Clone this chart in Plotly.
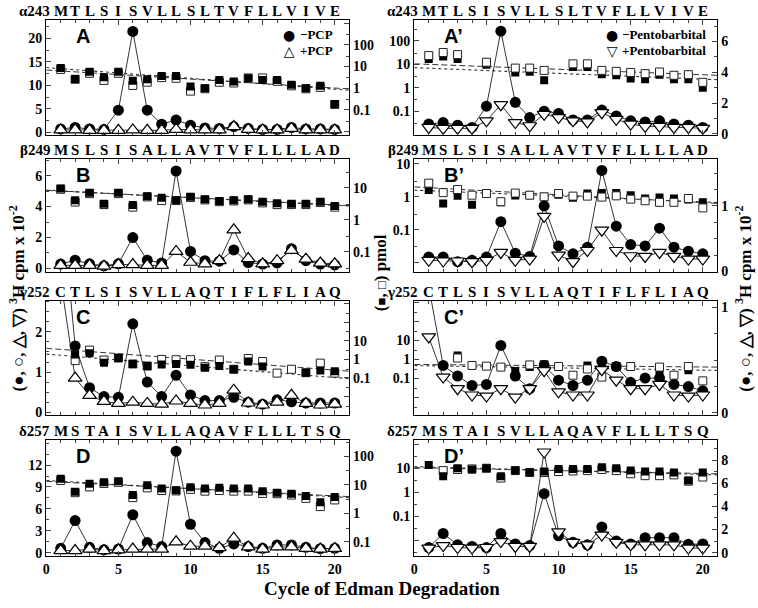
import math
import plotly.graph_objects as go

W, H = 758, 608

# ---------------- data ----------------
cycles = [1, 2, 3, 4, 5, 6, 7, 8, 9, 10, 11, 12, 13, 14, 15, 16, 17, 18, 19, 20]
fit_x = [0, 21]

seq_alpha = ["M", "T", "L", "S", "I", "S", "V", "L", "L", "S", "L", "T", "V", "F", "L", "L", "V", "I", "V", "E"]
seq_beta = ["M", "S", "L", "S", "I", "S", "A", "L", "L", "A", "V", "T", "V", "F", "L", "L", "L", "L", "A", "D"]
seq_gamma = ["C", "T", "L", "S", "I", "S", "V", "L", "L", "A", "Q", "T", "I", "F", "L", "F", "L", "I", "A", "Q"]
seq_delta = ["M", "S", "T", "A", "I", "S", "V", "L", "L", "A", "Q", "A", "V", "F", "L", "L", "L", "T", "S", "Q"]

# Panel A (-PCP circles / +PCP triangles, cpm x 10^-2; squares pmol)
A_circle = [0.7, 1.0, 0.7, 0.6, 4.7, 21.5, 4.7, 1.7, 2.6, 1.5, 0.9, 0.8, 1.2, 0.8, 0.6, 0.6, 1.0, 0.7, 0.7, 0.6]
A_triangle = [0.5, 0.5, 0.4, 0.4, 0.4, 0.5, 0.4, 0.4, 0.6, 0.5, 0.5, 0.5, 1.2, 0.6, 0.5, 0.5, 0.8, 0.5, 0.5, 0.5]
A_sq_filled = [8.7, 2.7, 5.8, 3.2, 5.8, 2.2, 2.6, 3.7, 3.7, 1.2, 1.0, 2.4, 2.05, 2.9, 2.4, 2.4, 1.45, 1.0, 1.3, 0.19]
A_sq_open = [7.4, 2.6, 4.9, 2.3, 4.9, 1.35, 1.9, 3.1, 2.9, 0.74, 0.95, 1.9, 1.75, 3.0, 3.0, 2.1, 1.3, 0.95, 1.1, 0.18]
A_fit_dotted = [9.0, 0.81]
A_fit_dashed = [6.9, 0.93]

B_circle = [0.28, 0.53, 0.3, 0.17, 0.3, 2.0, 0.53, 0.36, 6.3, 1.1, 0.5, 0.47, 1.2, 0.38, 0.28, 0.36, 1.28, 0.5, 0.28, 0.23]
B_triangle = [0.2, 0.2, 0.2, 0.15, 0.25, 0.25, 0.2, 0.2, 1.1, 0.4, 0.3, 0.5, 2.5, 0.64, 0.3, 0.5, 1.17, 0.6, 0.35, 0.3]
B_sq_filled = [9.5, 4.1, 7.0, 3.2, 7.0, 2.9, 5.5, 4.9, 4.1, 5.3, 4.4, 3.9, 4.1, 4.4, 3.7, 3.3, 3.2, 3.2, 3.7, 2.7]
B_sq_open = [9.0, 3.6, 6.6, 3.0, 6.6, 2.5, 5.2, 4.0, 4.0, 5.0, 4.2, 3.7, 3.9, 4.2, 3.4, 3.0, 3.0, 3.0, 3.5, 2.5]
B_fit_dotted = [8.5, 2.7]
B_fit_dashed = [8.3, 2.8]

C_circle = [5.5, 1.65, 0.61, 0.39, 0.37, 2.2, 0.75, 0.39, 0.92, 0.43, 0.29, 0.29, 0.37, 0.25, 0.2, 0.31, 0.26, 0.23, 0.23, 0.23]
C_triangle = [3.3, 0.85, 0.42, 0.27, 0.22, 0.25, 0.22, 0.2, 0.28, 0.22, 0.18, 0.22, 0.55, 0.23, 0.18, 0.25, 0.42, 0.22, 0.18, 0.2]
C_sq_filled = [None, 1.8, 2.1, 0.65, 1.17, 0.56, 0.43, 0.53, 0.56, 0.5, 0.35, 0.43, 0.29, 0.76, 0.41, None, None, 0.19, 0.25, 0.23]
C_sq_open = [None, 0.85, 3.1, 0.91, 1.17, 0.56, 0.43, 0.98, 0.95, 0.95, 0.4, 0.91, 0.29, 1.1, 0.76, 0.18, 0.29, 0.19, 0.62, 0.18]
C_fit_dotted = [1.9, 0.09]
C_fit_dashed = [3.9, 0.23]

D_circle = [0.6, 4.4, 0.75, 0.4, 0.5, 5.2, 1.4, 0.85, 13.9, 3.9, 1.4, 0.6, 1.2, 0.85, 0.6, 1.07, 1.07, 0.75, 0.55, 0.6]
D_triangle = [0.3, 0.3, 0.5, 0.3, 0.4, 0.5, 0.5, 0.5, 1.5, 0.9, 0.9, 0.7, 2.0, 0.8, 0.5, 0.8, 0.8, 0.6, 0.5, 0.6]
D_sq_filled = [16, 5.6, 10.8, 12, 13, 4.3, 9.5, 7.3, 6.4, 8.1, 7.3, 7.7, 7.3, 7.3, 5.9, 5.2, 4.8, 4.0, 2.4, 3.7]
D_sq_open = [14, 5.2, 8.3, 11, 12, 3.5, 7.7, 6.2, 6.0, 6.8, 5.9, 6.2, 5.9, 5.9, 4.9, 4.8, 4.3, 3.3, 1.7, 2.9]
D_fit_dotted = [14, 3.5]
D_fit_dashed = [13, 3.8]

# Pentobarbital panels (circles -Pentobarbital, inverted triangles +Pentobarbital)
Ap_circle = [0.64, 0.74, 0.57, 0.42, 1.8, 6.67, 2.05, 1.06, 1.48, 1.33, 0.91, 0.91, 1.55, 1.17, 0.85, 0.78, 0.85, 0.64, 0.57, 0.42]
Ap_triangle = [0.42, 0.36, 0.36, 0.36, 0.85, 1.9, 0.74, 0.53, 1.27, 1.06, 0.85, 0.78, 1.38, 0.95, 0.64, 0.49, 0.49, 0.42, 0.42, 0.36]
Ap_sq_filled = [17, 21.4, 17, None, 9.6, None, 4.5, 4.8, 2.1, None, 7.6, 7.6, 3.8, 3.4, 2.5, 2.3, 3.6, 2.3, 2.3, 1.0]
Ap_sq_open = [23.6, 32, 26, None, 12.3, None, 6.9, 6.9, 5.5, None, 10.5, 10.5, 5.5, 5.0, 4.5, 4.0, 4.7, 3.4, 3.6, 1.7]
Ap_fit_dotted = [7.2, 2.2]
Ap_fit_dashed = [10.5, 3.4]

Bp_circle = [0.22, 0.22, 0.15, 0.17, 0.22, 0.76, 0.28, 0.23, 1.0, 0.39, 0.27, 0.37, 1.54, 0.69, 0.41, 0.39, 0.66, 0.37, 0.31, 0.27]
Bp_triangle = [0.17, 0.16, 0.16, 0.15, 0.17, 0.29, 0.17, 0.19, 0.84, 0.25, 0.15, 0.32, 0.63, 0.32, 0.24, 0.23, 0.29, 0.23, 0.19, 0.19]
Bp_sq_filled = [1.6, 0.63, 1.07, 0.57, 1.26, 0.68, 1.1, 1.12, 1.0, 1.15, 0.93, 1.26, 1.3, 1.3, 1.12, 0.89, 0.95, 0.89, 0.83, 0.68]
Bp_sq_open = [2.6, 1.34, 1.66, 1.12, 1.26, 0.71, 1.3, 1.12, 1.0, 1.26, 1.05, 1.05, 0.98, 1.07, 0.85, 0.76, 0.68, 0.68, 0.89, 0.46]
Bp_fit_dotted = [1.6, 0.67]
Bp_fit_dashed = [2.0, 0.63]

Cp_circle = [1.2, 0.45, 0.35, 0.26, 0.27, 0.64, 0.35, 0.23, 0.45, 0.31, 0.26, 0.31, 0.49, 0.44, 0.29, 0.33, 0.33, 0.27, 0.25, 0.21]
Cp_triangle = [0.72, 0.34, 0.23, 0.17, 0.16, 0.23, 0.15, 0.23, 0.40, 0.2, 0.17, 0.17, 0.41, 0.31, 0.23, 0.23, 0.27, 0.17, 0.16, 0.17]
Cp_sq_filled = [None, None, 1.6, 0.49, 0.45, 0.4, 0.25, 0.4, 0.4, None, None, 0.49, 0.56, 0.43, None, None, 0.27, None, 0.27, None]
Cp_sq_open = [None, None, 1.2, 0.49, 0.45, 0.4, None, 0.52, 0.54, 0.43, 0.15, 0.32, 0.12, 0.43, 0.43, None, 0.4, 0.15, 0.43, 0.076]
Cp_fit_dotted = [0.48, 0.27]
Cp_fit_dashed = [0.55, 0.40]

Dp_circle = [0.45, 1.66, 0.68, 0.54, 0.45, 1.66, 0.76, 0.62, 5.1, 1.46, 0.9, 0.68, 2.23, 1.01, 0.76, 1.3, 1.3, 1.3, 0.73, 0.76]
Dp_triangle = [0.4, 0.62, 0.45, 0.4, 0.45, 0.96, 0.54, 0.54, 8.7, 1.8, 0.9, 0.68, 1.52, 0.9, 0.68, 0.68, 0.68, 0.68, 0.4, 0.4]
Dp_sq_filled = [13.7, 4.6, 10, 8.9, 10, 4.6, 8.0, 6.7, 7.3, 9.4, 9.4, 9.4, 11, 10, 8.0, 7.3, 7.3, 6.7, 3.1, 6.7]
Dp_sq_open = [None, 8.0, 8.9, 9.4, 10, 3.9, 8.0, 6.7, 6.7, 7.3, 7.7, 8.0, 8.9, 8.0, 5.9, 4.9, 4.9, 5.3, 2.9, 4.3]
Dp_fit_dotted = [11.7, 5.3]
Dp_fit_dashed = [10.6, 5.9]

# ---------------- layout configuration ----------------
SERIF = "Liberation Serif"
SANS = "Liberation Sans"
col_px = [(42.5, 347.0), (412.5, 717.0)]
row_px = [(15, 133), (157, 273), (302, 419), (444, 563)]


def fx(p):
    return p / W


def fy(p):
    return 1 - p / H


panels = [
    dict(label="A", col=0, row=0, seq=seq_alpha, prefix="α243", circ=A_circle, tri=A_triangle,
         sqf=A_sq_filled, sqo=A_sq_open, fdot=A_fit_dotted, fdash=A_fit_dashed,
         lin_range=[-0.63, 24.0], lin_ticks=[0, 5, 10, 15, 20], lin_minor=2.5,
         log_range=[-2.16, 3.16], log_labels=[0.1, 1, 10, 100], tri_sym="triangle-up"),
    dict(label="B", col=0, row=1, seq=seq_beta, prefix="β249", circ=B_circle, tri=B_triangle,
         sqf=B_sq_filled, sqo=B_sq_open, fdot=B_fit_dotted, fdash=B_fit_dashed,
         lin_range=[-0.24, 7.1], lin_ticks=[0, 2, 4, 6], lin_minor=1,
         log_range=[-1.63, 1.91], log_labels=[0.1, 1, 10], tri_sym="triangle-up"),
    dict(label="C", col=0, row=2, seq=seq_gamma, prefix="γ252", circ=C_circle, tri=C_triangle,
         sqf=C_sq_filled, sqo=C_sq_open, fdot=C_fit_dotted, fdash=C_fit_dashed,
         lin_range=[-0.07, 2.78], lin_ticks=[0, 1, 2], lin_minor=0.25,
         log_range=[-3.0, 3.16], log_labels=[0.1, 1, 10], tri_sym="triangle-up"),
    dict(label="D", col=0, row=3, seq=seq_delta, prefix="δ257", circ=D_circle, tri=D_triangle,
         sqf=D_sq_filled, sqo=D_sq_open, fdot=D_fit_dotted, fdash=D_fit_dashed,
         lin_range=[-0.44, 15.5], lin_ticks=[0, 3, 6, 9, 12], lin_minor=1.5,
         log_range=[-1.5, 2.58], log_labels=[0.1, 1, 10, 100], tri_sym="triangle-up"),
    dict(label="A’", col=1, row=0, seq=seq_alpha, prefix="α243", circ=Ap_circle, tri=Ap_triangle,
         sqf=Ap_sq_filled, sqo=Ap_sq_open, fdot=Ap_fit_dotted, fdash=Ap_fit_dashed,
         lin_range=[-0.08, 7.42], lin_ticks=[0, 2, 4, 6], lin_minor=1,
         log_range=[-2.03, 2.91], log_labels=[0.1, 1, 10, 100], tri_sym="triangle-down"),
    dict(label="B’", col=1, row=1, seq=seq_beta, prefix="β249", circ=Bp_circle, tri=Bp_triangle,
         sqf=Bp_sq_filled, sqo=Bp_sq_open, fdot=Bp_fit_dotted, fdash=Bp_fit_dashed,
         lin_range=[-0.01, 1.72], lin_ticks=[0, 1], lin_minor=0.25,
         log_range=[-2.29, 1.16], log_labels=[0.1, 1, 10], tri_sym="triangle-down"),
    dict(label="C’", col=1, row=2, seq=seq_gamma, prefix="γ252", circ=Cp_circle, tri=Cp_triangle,
         sqf=Cp_sq_filled, sqo=Cp_sq_open, fdot=Cp_fit_dotted, fdash=Cp_fit_dashed,
         lin_range=[-0.02, 1.065], lin_ticks=[0, 1], lin_minor=0.25,
         log_range=[-2.91, 3.09], log_labels=[0.1, 1, 10], tri_sym="triangle-down"),
    dict(label="D’", col=1, row=3, seq=seq_delta, prefix="δ257", circ=Dp_circle, tri=Dp_triangle,
         sqf=Dp_sq_filled, sqo=Dp_sq_open, fdot=Dp_fit_dotted, fdash=Dp_fit_dashed,
         lin_range=[-0.28, 9.78], lin_ticks=[0, 2, 4, 6, 8], lin_minor=1,
         log_range=[-2.66, 2.2], log_labels=[0.1, 1, 10], tri_sym="triangle-down"),
]

tick_font = dict(family=SERIF, size=14, color="black", weight="bold")
all_decades = [0.0001, 0.001, 0.01, 0.1, 1, 10, 100, 1000, 10000]
minor_log = [3 * d for d in all_decades]


def log_label(d, labels):
    if d not in labels:
        return " "
    return "0.1" if d == 0.1 else str(int(d))


fig = go.Figure()
layout = dict(
    width=W, height=H, margin=dict(l=0, r=0, t=0, b=0),
    paper_bgcolor="white", plot_bgcolor="white", showlegend=False,
)
annotations = []

for k, p in enumerate(panels):
    xname = "x" if k == 0 else f"x{k + 1}"
    xkey = "xaxis" if k == 0 else f"xaxis{k + 1}"
    ym = 2 * k + 1
    yo = 2 * k + 2
    ymain = "y" if ym == 1 else f"y{ym}"
    ymain_key = "yaxis" if ym == 1 else f"yaxis{ym}"
    yover = f"y{yo}"
    yover_key = f"yaxis{yo}"
    x0, x1 = col_px[p["col"]]
    top, bot = row_px[p["row"]]
    dom_x = [fx(x0), fx(x1)]
    dom_y = [fy(bot), fy(top)]
    left_col = p["col"] == 0

    layout[xkey] = dict(
        domain=dom_x, anchor=ymain, range=[0, 21], tickvals=[0, 5, 10, 15, 20],
        showticklabels=(p["row"] == 3), ticks="inside", ticklen=5, tickwidth=1,
        minor=dict(ticks="inside", dtick=1, ticklen=3, tickwidth=1, showgrid=False),
        showline=True, linecolor="black", linewidth=1.3, mirror="ticks",
        showgrid=False, zeroline=False, tickfont=tick_font,
    )
    lin_axis = dict(
        type="linear", range=p["lin_range"], tickvals=p["lin_ticks"],
        ticks="inside", ticklen=5, tickwidth=1,
        minor=dict(ticks="inside", dtick=p["lin_minor"], ticklen=3, tickwidth=1, showgrid=False),
        showline=True, linecolor="black", linewidth=1.3,
        showgrid=False, zeroline=False, tickfont=tick_font,
    )
    lo, hi = p["log_range"]
    vis_dec = [d for d in all_decades if lo <= math.log10(d) <= hi]
    log_axis = dict(
        type="log", range=p["log_range"], tickvals=vis_dec,
        ticktext=[log_label(d, p["log_labels"]) for d in vis_dec],
        ticks="inside", ticklen=5, tickwidth=1,
        minor=dict(ticks="inside", tickvals=minor_log, ticklen=3, tickwidth=1, showgrid=False),
        showline=True, linecolor="black", linewidth=1.3,
        showgrid=False, zeroline=False, tickfont=tick_font,
    )
    if left_col:
        main_ax, over_ax = lin_axis, log_axis
        cpm_y, pmol_y = ymain, yover
    else:
        main_ax, over_ax = log_axis, lin_axis
        cpm_y, pmol_y = yover, ymain
    main_ax.update(domain=dom_y, anchor=xname, side="left")
    over_ax.update(domain=dom_y, anchor=xname, side="right", overlaying=ymain)
    layout[ymain_key] = main_ax
    layout[yover_key] = over_ax

    # fit lines
    fig.add_trace(go.Scatter(x=fit_x, y=p["fdash"], mode="lines", xaxis=xname, yaxis=pmol_y,
                             line=dict(color="#333333", width=1, dash="6px,3px"), hoverinfo="skip"))
    fig.add_trace(go.Scatter(x=fit_x, y=p["fdot"], mode="lines", xaxis=xname, yaxis=pmol_y,
                             line=dict(color="#333333", width=1.1, dash="dot"), hoverinfo="skip"))
    open_tr = go.Scatter(x=cycles, y=p["sqo"], mode="markers", xaxis=xname, yaxis=pmol_y,
                         marker=dict(symbol="square", size=8, color="white",
                                     line=dict(color="#222222", width=1)))
    filled_tr = go.Scatter(x=cycles, y=p["sqf"], mode="markers", xaxis=xname, yaxis=pmol_y,
                           marker=dict(symbol="square", size=8, color="black",
                                       line=dict(color="black", width=0)))
    if left_col or p["row"] == 3:
        fig.add_trace(open_tr)
        fig.add_trace(filled_tr)
    else:
        fig.add_trace(filled_tr)
        fig.add_trace(open_tr)
    fig.add_trace(go.Scatter(x=cycles, y=p["circ"], mode="lines+markers", xaxis=xname, yaxis=cpm_y,
                             line=dict(color="black", width=0.8),
                             marker=dict(symbol="circle", size=11, color="black",
                                         line=dict(color="black", width=0))))
    fig.add_trace(go.Scatter(x=cycles, y=p["tri"], mode="lines+markers", xaxis=xname, yaxis=cpm_y,
                             line=dict(color="black", width=0.8),
                             marker=dict(symbol=p["tri_sym"], size=12, color="white",
                                         line=dict(color="black", width=1.2))))

    # sequence row above the panel
    ylet = fy(top - 9)
    annotations.append(dict(x=0.38, xref=xname, y=ylet, yref="paper", text=p["prefix"],
                            xanchor="right", yanchor="middle", showarrow=False,
                            font=dict(family=SERIF, size=15, color="black", weight="bold")))
    for c, letter in zip(cycles, p["seq"]):
        annotations.append(dict(x=c, xref=xname, y=ylet, yref="paper", text=letter,
                                xanchor="center", yanchor="middle", showarrow=False,
                                font=dict(family=SERIF, size=15, color="black", weight="bold")))
    # panel label
    annotations.append(dict(x=1.95, xref=xname, y=fy(top + 17), yref="paper", text=p["label"],
                            xanchor="left", yanchor="middle", showarrow=False,
                            font=dict(family=SANS, size=20, color="black", weight="bold")))

# legends: one glyph column and one text column per panel (two lines each)
glyph_font = dict(family="DejaVu Sans", size=12, color="black")
leg_font = dict(family=SERIF, size=12, color="black", weight="bold")
gspan = "<span style='font-size:14px'>{}</span>"
tspan = "<span style='font-size:13px'>{}</span>"
annotations += [
    dict(x=fx(287), y=fy(38.5), xref="paper", yref="paper",
         text=gspan.format("●") + "<br>" + gspan.format("△"), showarrow=False,
         xanchor="center", yanchor="middle", align="center", font=glyph_font),
    dict(x=fx(296), y=fy(38.5), xref="paper", yref="paper",
         text=tspan.format("−PCP") + "<br>" + tspan.format("+PCP"), showarrow=False,
         xanchor="left", yanchor="middle", align="left", font=leg_font),
    dict(x=fx(611), y=fy(38.5), xref="paper", yref="paper",
         text=gspan.format("●") + "<br>" + gspan.format("▽"), showarrow=False,
         xanchor="center", yanchor="middle", align="center", font=glyph_font),
    dict(x=fx(619), y=fy(38.5), xref="paper", yref="paper",
         text=tspan.format("−Pentobarbital") + "<br>" + tspan.format("+Pentobarbital"), showarrow=False,
         xanchor="left", yanchor="middle", align="left", font=leg_font),
]

title_font = dict(family=SERIF, size=17, color="black", weight="bold")
cpm_title = "(●, ○, △, ▽) <sup>3</sup>H cpm x 10<sup>-2</sup>"
pmol_title = "(<span style='font-size:13px'>■</span>, <span style='font-size:13px'>□</span>) pmol"
annotations += [
    dict(x=fx(13), y=fy(300), xref="paper", yref="paper", text=cpm_title, textangle=-90,
         showarrow=False, xanchor="center", yanchor="middle", font=title_font),
    dict(x=fx(743), y=fy(300), xref="paper", yref="paper", text=cpm_title, textangle=-90,
         showarrow=False, xanchor="center", yanchor="middle", font=title_font),
    dict(x=fx(378), y=fy(274), xref="paper", yref="paper", text=pmol_title, textangle=-90,
         showarrow=False, xanchor="center", yanchor="middle", font=title_font),
    dict(x=fx(380), y=fy(596), xref="paper", yref="paper", text="Cycle of Edman Degradation",
         showarrow=False, xanchor="center", yanchor="middle",
         font=dict(family=SERIF, size=19, color="black", weight="bold")),
]
layout["annotations"] = annotations
fig.update_layout(**layout)
fig.write_html(
    "out.html",
    config={"displayModeBar": False},
    post_script="document.body.style.margin='0px';document.body.style.padding='0px';",
)
